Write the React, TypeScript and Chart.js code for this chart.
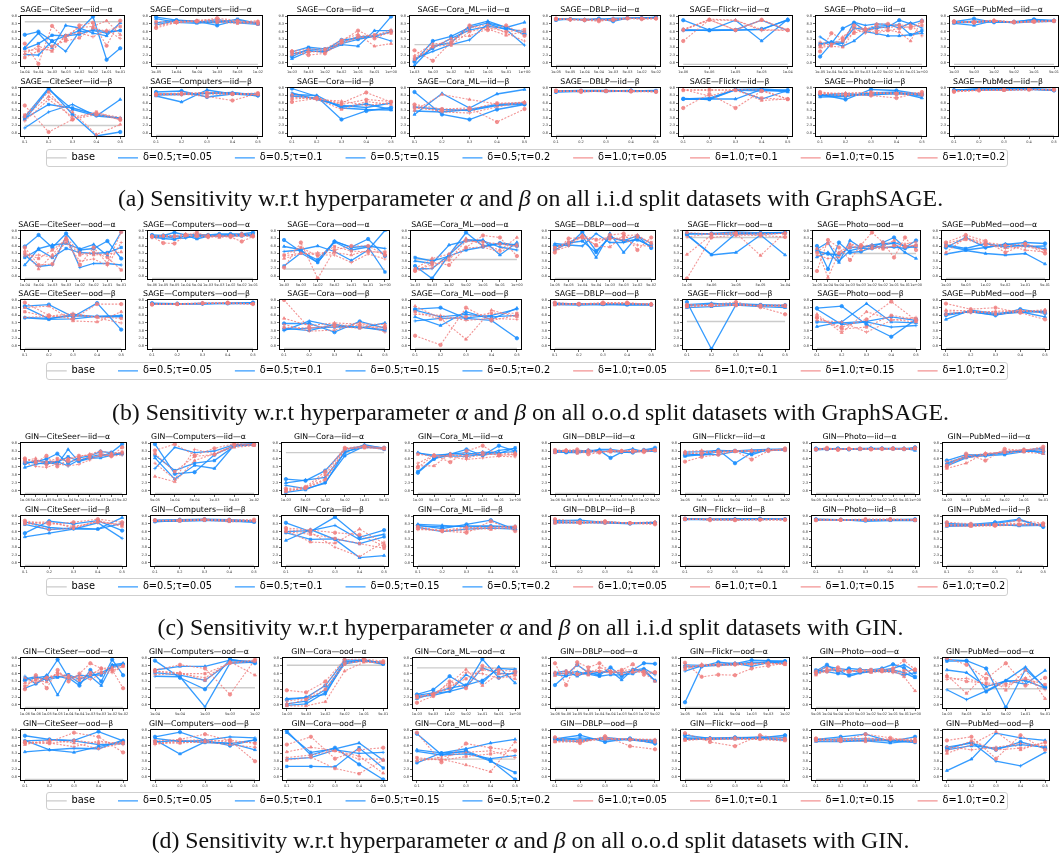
import React, { useEffect, useRef } from 'react';
import { Chart, registerables } from 'chart.js';
Chart.register(...registerables);
Chart.defaults.font.family = 'DejaVu Sans';

const SERIES_LABELS = ['base', 'δ=0.5;τ=0.05', 'δ=0.5;τ=0.1', 'δ=0.5;τ=0.15', 'δ=0.5;τ=0.2', 'δ=1.0;τ=0.05', 'δ=1.0;τ=0.1', 'δ=1.0;τ=0.15', 'δ=1.0;τ=0.2'];
const DATASET_NAMES = ['CiteSeer', 'Computers', 'Cora', 'Cora_ML', 'DBLP', 'Flickr', 'Photo', 'PubMed'];
const BETA_TICKS = ['0.1', '0.2', '0.3', '0.4', '0.5'];

const alpha8a = ['1e-04', '5e-04', '1e-03', '5e-03', '1e-02', '5e-02', '1e-01', '5e-01'];
const alpha6Comp = ['1e-05', '1e-04', '5e-04', '1e-03', '5e-03', '1e-02'];
const alpha7Cora = ['1e-03', '5e-03', '1e-02', '5e-02', '1e-01', '5e-01', '1e+00'];
const alpha8Dblp = ['1e-05', '5e-05', '1e-04', '5e-04', '1e-03', '5e-03', '1e-02', '5e-02'];
const alpha5Flickr = ['1e-06', '5e-06', '1e-05', '5e-05', '1e-04'];
const alpha10Photo = ['1e-05', '1e-04', '5e-04', '1e-03', '5e-03', '1e-02', '5e-02', '1e-01', '5e-01', '1e+00'];
const alpha6Pub = ['1e-03', '5e-03', '1e-02', '5e-02', '1e-01', '5e-01'];
const alpha10Comp = ['5e-06', '1e-05', '5e-05', '1e-04', '5e-04', '1e-03', '5e-03', '1e-02', '5e-02', '1e-01'];
const alpha10Gin = ['1e-06', '5e-06', '1e-05', '5e-05', '1e-04', '5e-04', '1e-03', '5e-03', '1e-02', '5e-02'];
const alpha6GinComp = ['5e-05', '1e-04', '5e-04', '1e-03', '5e-03', '1e-02'];
const alpha7GinFlickr = ['1e-05', '5e-05', '1e-04', '5e-04', '1e-03', '5e-03', '1e-02'];
const alpha10GinPhoto = ['5e-05', '1e-04', '5e-04', '1e-03', '5e-03', '1e-02', '5e-02', '1e-01', '5e-01', '1e+00'];
const alpha5GinComp = ['1e-04', '5e-04', '1e-03', '5e-03', '1e-02'];

const sageIidAlphaTicks = [alpha8a, alpha6Comp, alpha7Cora, alpha7Cora, alpha8Dblp, alpha5Flickr, alpha10Photo, alpha6Pub];
const sageOodAlphaTicks = [alpha8a, alpha10Comp, alpha7Cora, alpha7Cora, alpha8Dblp, alpha5Flickr, alpha10Photo, alpha6Pub];
const ginIidAlphaTicks = [alpha10Gin, alpha6GinComp, alpha6Pub, alpha7Cora, alpha10Gin, alpha7GinFlickr, alpha10GinPhoto, alpha6Pub];
const ginOodAlphaTicks = [alpha10Gin, alpha5GinComp, alpha6Pub, alpha7Cora, alpha10Gin, alpha7GinFlickr, alpha10GinPhoto, alpha6Pub];

// values read relative to each axes box (0 = bottom edge, 10 = top edge)
const sageIidAlphaBase = [8.7, 0.5, 0.5, 4.3, 0.3, 0.5, 0.5, 0.5];
const sageIidBetaBase = [2.3, 0.3, 0.3, 0.2, 0.3, 0.3, 0.3, 0.3];
const sageOodAlphaBase = [0.3, 0.3, 2.2, 4.1, 0.3, 8.5, 5.3, 0.3];
const sageOodBetaBase = [0.3, 0.3, 0.3, 0.3, 0.3, 5.6, 0.3, 0.3];
const ginIidAlphaBase = [0.3, 0.3, 8.0, 0.3, 0.3, 0.3, 0.3, 0.3];
const ginIidBetaBase = [0.3, 0.3, 0.3, 0.3, 0.3, 0.3, 0.3, 0.3];
const ginOodAlphaBase = [0.3, 4.1, 8.4, 7.9, 0.3, 0.3, 0.3, 3.9];
const ginOodBetaBase = [0.3, 0.3, 0.3, 4.2, 0.3, 0.3, 0.3, 0.3];

const sageIidAlpha = [
  [[6.2, 6.8, 5.0, 6.0, 7.0, 9.7, 1.4, 3.6], [3.7, 6.5, 3.7, 8.0, 7.5, 6.5, 6.0, 8.5], [2.4, 2.3, 5.0, 3.0, 6.8, 7.0, 6.5, 7.1], [3.5, 4.5, 6.1, 6.0, 6.3, 7.2, 6.8, 7.0], [4.5, 0.6, 7.9, 5.3, 8.0, 8.5, 4.1, 8.9], [2.5, 4.0, 3.0, 6.0, 7.6, 7.8, 8.9, 6.2], [3.0, 3.5, 3.2, 6.1, 6.6, 5.8, 7.1, 5.5], [1.8, 3.1, 4.0, 5.0, 5.6, 7.5, 6.9, 7.8]],
  [[9.6, 9.0, 8.8, 8.0, 9.0, 8.3], [9.3, 8.6, 8.4, 8.8, 8.5, 8.2], [8.1, 8.9, 8.6, 9.1, 8.6, 8.6], [8.5, 9.0, 8.7, 8.5, 9.2, 8.4], [7.5, 8.6, 8.8, 9.4, 8.9, 8.5], [7.8, 8.8, 8.9, 8.9, 8.7, 8.2], [8.2, 8.4, 9.0, 9.1, 8.6, 8.9], [8.7, 8.7, 8.7, 8.6, 8.4, 8.7]],
  [[2.0, 3.5, 3.2, 5.2, 5.5, 6.0, 9.7], [1.6, 3.0, 3.0, 4.3, 4.0, 7.0, 7.0], [2.5, 3.2, 2.8, 4.8, 5.8, 6.0, 5.0], [2.9, 3.8, 3.5, 4.5, 5.3, 5.9, 6.8], [3.0, 2.3, 2.6, 5.0, 7.0, 5.5, 6.8], [3.1, 3.4, 3.5, 5.2, 6.3, 4.0, 4.5], [2.7, 3.0, 2.8, 4.5, 5.6, 6.0, 7.2], [2.4, 2.8, 3.3, 4.7, 5.9, 6.2, 6.5]],
  [[1.0, 5.0, 5.9, 7.6, 8.5, 7.6, 6.3], [0.3, 4.0, 4.7, 7.9, 8.8, 7.6, 8.6], [1.6, 3.0, 4.3, 5.2, 8.3, 7.2, 4.2], [1.3, 3.6, 5.5, 7.1, 7.8, 7.4, 6.8], [3.2, 1.2, 4.8, 8.0, 7.1, 8.0, 6.0], [1.4, 3.8, 5.5, 6.0, 7.3, 6.1, 6.8], [2.2, 4.5, 4.6, 7.5, 8.2, 6.5, 5.0], [1.8, 4.0, 4.2, 6.8, 7.6, 6.8, 7.2]],
  [[9.1, 9.2, 9.0, 9.3, 8.8, 9.4, 9.4, 9.6], [9.3, 9.2, 9.1, 9.2, 9.2, 9.3, 9.5, 9.5], [9.2, 9.1, 9.2, 9.0, 9.4, 9.4, 9.3, 9.4], [9.0, 9.2, 9.1, 9.2, 9.1, 9.4, 9.4, 9.5], [9.3, 9.1, 9.0, 8.8, 9.2, 9.4, 9.2, 9.3], [9.2, 9.2, 9.1, 9.1, 9.0, 9.3, 9.3, 9.4], [9.4, 9.0, 9.2, 9.2, 9.1, 9.4, 9.3, 9.3], [9.1, 9.2, 9.0, 9.0, 9.0, 9.3, 9.4, 9.4]],
  [[9.0, 7.1, 7.1, 7.3, 9.0], [7.1, 7.1, 9.0, 5.0, 9.2], [7.0, 7.1, 7.2, 9.0, 7.0], [7.2, 7.0, 7.1, 7.2, 9.1], [5.0, 9.1, 7.1, 9.1, 7.1], [7.3, 9.0, 9.0, 7.2, 7.0], [7.0, 9.2, 9.0, 7.0, 7.2], [7.1, 9.1, 7.1, 9.0, 7.1]],
  [[2.0, 4.5, 7.4, 8.5, 7.0, 7.5, 7.7, 9.0, 8.3, 8.9], [4.3, 4.8, 4.0, 5.0, 6.8, 6.4, 6.0, 6.0, 6.2, 6.5], [5.8, 4.4, 4.6, 8.6, 8.0, 8.3, 8.2, 7.5, 8.5, 7.5], [4.5, 4.8, 4.8, 7.5, 7.2, 7.8, 8.0, 8.1, 6.2, 7.0], [3.0, 6.5, 5.4, 8.0, 7.2, 8.2, 8.3, 8.0, 7.5, 8.7], [3.8, 4.0, 3.8, 6.8, 7.5, 7.0, 7.1, 6.7, 5.0, 9.0], [4.8, 4.1, 5.8, 7.5, 6.5, 7.7, 7.5, 8.0, 8.2, 6.0], [4.1, 4.4, 5.0, 6.5, 7.1, 6.6, 7.0, 7.4, 7.8, 8.0]],
  [[8.7, 9.3, 8.6, 8.7, 9.1, 8.9], [8.4, 8.0, 8.9, 8.6, 8.9, 9.0], [8.6, 8.8, 8.8, 8.5, 8.7, 8.8], [8.5, 8.6, 8.7, 8.6, 9.2, 8.8], [8.8, 8.5, 8.9, 8.7, 8.8, 8.9], [8.6, 8.8, 9.0, 8.6, 8.6, 8.8], [8.5, 8.7, 8.9, 8.6, 8.9, 8.7], [8.7, 8.6, 8.8, 8.5, 8.7, 8.9]],
];

const sageIidBeta = [
  [[4.0, 9.8, 4.5, 0.2, 1.0], [3.5, 9.5, 5.5, 4.2, 7.5], [1.8, 5.0, 6.5, 4.2, 3.8], [3.7, 6.5, 5.8, 4.5, 3.7], [6.3, 1.0, 3.5, 4.5, 3.5], [4.0, 8.1, 5.0, 0.5, 2.5], [3.2, 7.5, 4.0, 4.8, 3.9], [4.4, 9.0, 3.5, 5.0, 3.4]],
  [[9.0, 9.2, 8.0, 8.6, 8.3], [8.2, 7.0, 9.4, 8.6, 8.6], [8.6, 8.6, 8.7, 8.9, 8.2], [8.4, 8.5, 8.8, 8.8, 8.5], [8.4, 8.6, 8.1, 7.3, 8.7], [8.7, 8.7, 8.6, 8.5, 8.5], [8.5, 8.4, 8.9, 8.8, 8.4], [8.6, 8.8, 8.9, 8.6, 8.8]],
  [[9.7, 8.1, 3.5, 5.2, 5.9], [8.5, 8.3, 5.8, 5.5, 5.4], [8.8, 7.5, 6.3, 5.9, 6.8], [8.2, 7.8, 6.0, 6.6, 5.5], [7.0, 7.7, 6.8, 8.9, 7.0], [8.5, 7.6, 5.5, 7.1, 6.5], [8.0, 7.5, 7.2, 6.3, 6.9], [7.6, 7.9, 6.5, 7.5, 7.1]],
  [[9.0, 4.5, 3.5, 5.5, 6.5], [4.5, 8.7, 5.8, 8.6, 9.5], [5.2, 5.0, 5.5, 6.5, 6.8], [6.0, 5.5, 5.3, 6.3, 6.6], [6.5, 5.6, 5.8, 3.0, 5.6], [5.3, 8.5, 7.5, 6.6, 7.0], [6.2, 5.0, 4.8, 6.0, 7.0], [5.8, 5.3, 5.5, 6.8, 6.8]],
  [[9.0, 9.2, 9.2, 9.3, 9.1], [9.2, 9.3, 9.3, 9.2, 9.2], [9.1, 9.1, 9.2, 9.1, 9.2], [9.2, 9.2, 9.1, 9.2, 9.3], [9.3, 9.0, 9.2, 9.1, 9.0], [9.1, 9.2, 9.1, 9.3, 9.1], [9.2, 9.1, 9.3, 9.2, 9.2], [9.2, 9.3, 9.2, 9.1, 9.1]],
  [[7.6, 7.6, 9.5, 9.6, 9.3], [7.6, 7.6, 7.6, 9.5, 9.0], [7.6, 7.8, 9.5, 7.6, 9.3], [7.7, 7.5, 9.4, 9.2, 9.4], [5.8, 8.6, 5.8, 9.2, 7.6], [9.5, 9.3, 9.5, 7.3, 7.6], [9.5, 8.2, 9.5, 9.4, 7.6], [9.3, 9.5, 9.3, 7.8, 7.5]],
  [[8.5, 7.5, 9.5, 9.3, 8.5], [8.0, 8.1, 8.8, 9.0, 7.8], [8.4, 8.7, 8.3, 8.9, 8.2], [8.3, 8.3, 8.6, 8.6, 8.6], [9.0, 8.5, 8.3, 7.8, 9.0], [8.7, 8.8, 8.9, 8.5, 8.6], [8.6, 8.2, 8.6, 8.9, 8.8], [8.8, 8.6, 9.0, 8.7, 8.4]],
  [[9.3, 9.7, 9.7, 9.6, 9.3], [9.4, 9.5, 9.6, 9.7, 9.4], [9.3, 9.4, 9.5, 9.5, 9.5], [9.4, 9.5, 9.4, 9.6, 9.4], [9.1, 9.3, 9.4, 9.5, 9.5], [9.2, 9.4, 9.3, 9.4, 9.6], [9.3, 9.3, 9.4, 9.6, 9.3], [9.0, 9.4, 9.5, 9.5, 9.4]],
];

const sageOodAlpha = [
  [[6.7, 9.0, 6.5, 9.3, 6.0, 6.3, 7.8, 4.3], [3.0, 6.3, 7.0, 7.3, 6.2, 7.1, 4.9, 9.6], [5.0, 2.7, 3.0, 8.7, 2.5, 3.3, 3.3, 3.0], [4.5, 6.1, 4.5, 6.3, 5.5, 5.3, 5.5, 6.5], [6.5, 3.0, 3.2, 8.2, 3.0, 6.5, 3.3, 9.6], [5.8, 2.2, 5.0, 8.5, 5.5, 5.0, 5.2, 5.6], [4.8, 5.0, 4.6, 7.5, 3.8, 4.2, 2.9, 7.5], [5.3, 4.3, 6.0, 8.0, 5.0, 5.5, 4.5, 2.0]],
  [[9.0, 8.9, 9.5, 9.0, 9.1, 9.0, 9.2, 9.2, 9.2, 9.5], [8.6, 8.3, 8.1, 8.9, 8.2, 8.8, 9.0, 8.8, 9.1, 9.0], [8.5, 8.9, 8.3, 8.4, 9.0, 8.7, 8.9, 9.1, 9.0, 8.8], [8.7, 8.6, 8.8, 8.7, 8.6, 8.9, 8.7, 8.9, 8.8, 9.2], [8.7, 7.4, 7.3, 9.0, 9.5, 8.6, 8.9, 8.6, 7.7, 8.7], [8.8, 8.9, 8.9, 9.2, 9.1, 9.0, 8.5, 8.9, 9.3, 9.0], [8.5, 8.7, 8.6, 8.8, 8.8, 8.5, 8.7, 8.6, 8.8, 8.7], [8.6, 8.8, 8.7, 8.9, 8.7, 8.8, 8.8, 8.9, 8.9, 8.8]],
  [[8.0, 5.7, 4.0, 7.7, 6.6, 8.2, 4.8], [6.7, 6.1, 6.8, 5.7, 3.9, 6.0, 9.9], [5.7, 6.0, 3.5, 7.8, 6.5, 6.8, 6.3], [2.8, 5.4, 3.5, 7.6, 6.0, 6.6, 1.6], [2.5, 7.5, 0.3, 6.0, 6.8, 6.8, 5.0], [4.3, 5.3, 5.4, 5.5, 5.0, 5.9, 5.2], [4.8, 5.4, 5.0, 5.0, 3.5, 5.2, 4.2], [5.0, 6.5, 4.8, 6.7, 5.8, 5.6, 5.6]],
  [[2.8, 0.3, 5.0, 9.5, 6.8, 7.3, 6.8], [3.8, 3.3, 7.0, 7.8, 8.0, 5.0, 7.5], [2.2, 2.3, 5.0, 8.1, 7.8, 6.6, 6.0], [4.5, 3.8, 4.8, 6.0, 6.6, 7.4, 7.0], [1.8, 3.5, 3.0, 6.5, 8.9, 8.5, 4.8], [2.3, 4.3, 5.2, 8.3, 7.0, 6.0, 8.5], [1.8, 2.4, 4.6, 6.4, 6.6, 5.6, 7.2], [2.0, 3.0, 4.0, 7.8, 7.6, 7.2, 6.8]],
  [[6.9, 7.0, 9.6, 5.8, 8.5, 7.9, 8.8, 6.4], [6.5, 7.5, 8.8, 4.5, 9.3, 5.5, 8.8, 7.3], [7.3, 7.0, 6.8, 9.3, 7.5, 7.5, 8.2, 6.6], [6.0, 7.4, 7.8, 5.5, 8.6, 7.8, 8.0, 6.8], [5.5, 8.3, 8.5, 7.0, 9.0, 9.3, 6.0, 8.5], [6.3, 7.3, 9.0, 6.8, 6.6, 8.9, 9.0, 7.3], [5.8, 6.8, 8.8, 8.2, 8.5, 8.0, 7.0, 6.7], [6.5, 7.6, 8.5, 8.0, 8.2, 8.5, 8.6, 7.5]],
  [[9.2, 9.3, 9.6, 9.4, 9.5], [9.0, 5.0, 5.5, 9.0, 5.0], [9.1, 5.1, 9.3, 9.2, 9.4], [9.3, 9.2, 9.2, 9.4, 9.4], [0.3, 8.5, 9.0, 8.9, 8.6], [5.1, 9.0, 9.4, 4.9, 9.5], [8.6, 9.3, 9.2, 9.0, 9.4], [9.5, 9.2, 9.5, 9.3, 9.3]],
  [[6.8, 2.2, 7.5, 5.5, 5.7, 6.5, 7.5, 8.5, 6.5, 7.9], [4.6, 5.5, 3.5, 7.9, 6.5, 7.0, 7.3, 7.3, 5.5, 4.3], [6.2, 7.5, 3.8, 5.9, 6.4, 6.2, 7.0, 7.5, 6.8, 6.5], [5.8, 5.2, 5.0, 6.5, 6.6, 6.8, 6.5, 6.6, 6.3, 6.9], [1.8, 8.0, 6.5, 4.0, 7.0, 9.5, 7.5, 4.5, 8.5, 6.0], [6.3, 0.5, 5.5, 7.1, 6.0, 6.3, 6.8, 7.9, 6.9, 6.8], [5.0, 4.3, 4.5, 7.2, 6.8, 7.0, 6.4, 6.8, 7.2, 7.6], [5.5, 7.3, 5.3, 6.5, 6.7, 6.5, 6.2, 6.9, 6.6, 7.0]],
  [[6.5, 8.5, 6.5, 7.1, 7.5, 7.3], [5.2, 5.9, 5.3, 5.0, 5.3, 3.2], [6.8, 6.0, 6.5, 7.2, 6.7, 6.8], [7.0, 6.3, 7.3, 6.6, 7.0, 6.2], [7.5, 9.0, 7.8, 5.5, 7.2, 5.3], [5.5, 8.5, 7.5, 7.0, 6.0, 5.6], [7.3, 8.3, 7.2, 6.3, 6.7, 6.0], [6.8, 8.1, 7.0, 6.8, 7.3, 5.9]],
];

const sageOodBeta = [
  [[8.6, 8.9, 6.5, 9.2, 4.0], [8.4, 6.1, 7.0, 6.5, 6.5], [6.4, 6.2, 6.7, 6.6, 6.8], [6.3, 6.0, 6.1, 6.6, 6.6], [9.3, 6.8, 6.1, 9.0, 9.0], [8.3, 8.6, 5.7, 5.5, 7.5], [6.4, 6.6, 7.2, 6.3, 5.3], [7.5, 6.5, 6.8, 6.5, 6.2]],
  [[9.2, 9.1, 9.1, 9.2, 9.3], [9.0, 9.0, 9.2, 9.1, 9.1], [9.1, 9.1, 9.0, 9.2, 9.2], [9.0, 9.0, 9.1, 9.1, 9.2], [8.9, 9.0, 9.2, 9.3, 9.0], [9.1, 8.9, 9.1, 9.2, 9.1], [9.0, 9.1, 9.2, 9.1, 9.0], [8.9, 9.0, 9.1, 9.2, 9.1]],
  [[5.2, 5.2, 3.5, 5.6, 4.3], [4.3, 3.8, 5.0, 4.3, 5.3], [3.8, 5.7, 4.7, 4.5, 4.0], [4.0, 4.3, 4.5, 4.5, 3.8], [9.8, 4.3, 4.9, 4.8, 4.3], [6.2, 4.8, 5.3, 5.1, 5.0], [5.0, 3.7, 3.9, 5.4, 3.5], [4.4, 4.3, 4.6, 4.3, 4.6]],
  [[8.0, 8.3, 6.2, 5.8, 2.3], [6.5, 4.8, 7.5, 6.0, 8.2], [5.7, 6.2, 6.3, 6.8, 8.0], [7.8, 6.5, 7.0, 6.5, 6.8], [2.8, 1.0, 8.3, 5.8, 6.8], [8.6, 6.2, 2.1, 7.8, 6.5], [7.0, 6.8, 5.8, 6.2, 6.0], [7.5, 6.0, 6.5, 7.2, 7.2]],
  [[9.2, 9.0, 9.1, 9.0, 8.9], [8.9, 8.8, 8.9, 8.8, 8.8], [9.0, 9.1, 8.9, 9.1, 9.0], [9.1, 9.0, 9.0, 8.9, 8.9], [9.3, 9.0, 9.3, 9.3, 8.9], [8.8, 9.0, 9.0, 9.1, 9.1], [9.0, 8.9, 9.2, 9.0, 8.8], [9.1, 9.1, 9.1, 9.2, 9.0]],
  [[9.4, 0.2, 8.9, 8.8, 8.8], [8.3, 8.5, 8.8, 8.5, 8.3], [8.9, 9.2, 8.8, 8.7, 8.7], [8.7, 9.0, 9.1, 8.9, 8.6], [8.8, 8.9, 9.4, 8.4, 7.0], [8.4, 8.7, 9.0, 8.6, 8.5], [9.0, 8.6, 8.9, 8.7, 8.9], [8.6, 8.8, 8.7, 8.8, 8.7]],
  [[8.2, 8.6, 5.0, 2.6, 6.0], [4.6, 5.5, 9.1, 5.5, 5.3], [8.0, 5.0, 5.5, 4.5, 4.8], [5.5, 5.3, 5.6, 6.5, 5.8], [6.3, 4.5, 6.0, 9.5, 5.8], [7.0, 3.4, 7.5, 6.0, 5.5], [5.8, 5.5, 3.5, 5.8, 6.4], [6.5, 4.1, 4.5, 6.8, 6.0]],
  [[7.0, 7.5, 6.8, 8.0, 7.2], [6.0, 7.8, 7.2, 7.5, 6.5], [7.1, 7.5, 6.9, 7.6, 7.5], [6.8, 7.6, 7.0, 7.4, 7.6], [9.1, 8.0, 8.3, 7.3, 6.0], [7.8, 7.7, 7.0, 7.5, 7.9], [7.5, 7.3, 7.6, 7.8, 7.2], [7.0, 7.6, 7.4, 7.7, 7.6]],
];

const ginIidAlpha = [
  [[6.0, 6.3, 6.8, 7.8, 6.0, 7.0, 7.4, 8.2, 8.0, 9.6], [5.2, 5.8, 6.2, 5.8, 8.6, 6.3, 6.9, 7.0, 7.5, 8.0], [5.8, 6.5, 6.3, 6.3, 5.5, 6.6, 7.0, 7.3, 8.0, 7.6], [6.3, 6.0, 5.9, 6.2, 7.2, 6.4, 7.2, 7.6, 7.5, 7.8], [6.9, 6.1, 7.4, 5.4, 6.7, 7.4, 7.5, 7.9, 7.3, 9.0], [6.5, 6.9, 5.6, 6.6, 6.8, 7.2, 7.7, 8.3, 7.9, 8.0], [6.1, 5.4, 5.2, 5.9, 5.5, 5.8, 6.6, 7.6, 7.3, 7.6], [6.7, 6.4, 6.2, 6.9, 6.3, 6.7, 7.1, 7.4, 7.6, 8.1]],
  [[9.6, 4.0, 4.3, 7.6, 9.3, 9.6], [7.0, 3.0, 5.6, 5.0, 9.4, 9.4], [5.0, 9.0, 8.0, 8.3, 9.5, 9.7], [7.5, 4.6, 6.0, 6.5, 9.2, 9.5], [8.4, 9.6, 7.5, 8.8, 9.7, 9.5], [3.5, 2.5, 6.5, 7.8, 9.0, 9.3], [6.0, 3.0, 8.6, 7.8, 9.3, 9.4], [7.8, 4.4, 7.3, 7.6, 9.5, 9.6]],
  [[3.0, 2.7, 4.6, 8.6, 9.3, 8.9], [2.3, 2.8, 3.3, 8.0, 9.5, 8.8], [1.8, 1.2, 2.2, 8.2, 9.0, 8.9], [0.5, 1.0, 2.4, 7.4, 9.2, 8.6], [1.2, 1.5, 4.4, 8.9, 9.2, 8.9], [0.6, 1.4, 3.0, 8.7, 9.0, 8.7], [1.0, 1.2, 2.8, 8.5, 9.3, 8.8], [0.8, 1.3, 3.8, 8.8, 8.9, 8.7]],
  [[4.2, 6.8, 7.7, 8.6, 7.5, 9.3, 8.3], [8.0, 7.2, 7.8, 7.6, 8.1, 8.0, 8.2], [7.9, 7.5, 7.7, 8.0, 7.4, 8.4, 8.8], [4.4, 7.0, 7.4, 7.3, 7.7, 7.8, 8.9], [5.2, 7.5, 6.2, 8.3, 9.3, 7.5, 7.7], [5.5, 5.5, 7.8, 7.0, 7.6, 7.7, 8.0], [6.0, 7.5, 7.2, 6.7, 7.0, 7.3, 7.2], [7.7, 7.3, 7.5, 7.4, 8.0, 7.5, 7.6]],
  [[8.3, 8.1, 8.2, 8.4, 8.4, 7.0, 8.1, 8.0, 8.5, 8.9], [8.0, 8.2, 8.1, 8.2, 8.6, 8.6, 8.3, 8.7, 8.2, 8.3], [8.4, 8.3, 8.4, 8.3, 8.2, 8.3, 8.1, 8.2, 8.4, 8.6], [8.2, 8.0, 8.0, 8.1, 8.3, 8.2, 8.2, 8.1, 8.3, 8.4], [8.5, 8.4, 8.6, 7.7, 8.0, 8.4, 8.3, 8.2, 8.1, 8.5], [8.1, 8.5, 8.2, 8.5, 8.1, 8.1, 8.2, 8.3, 8.5, 8.4], [8.3, 8.2, 8.3, 8.3, 8.2, 8.2, 8.4, 8.1, 8.2, 8.5], [8.0, 8.3, 7.9, 8.1, 8.1, 8.3, 8.3, 8.4, 8.3, 8.4]],
  [[7.5, 7.7, 8.5, 6.0, 8.0, 8.4, 8.5], [7.3, 7.6, 7.6, 8.2, 8.3, 8.5, 8.6], [8.1, 8.2, 8.4, 8.3, 8.5, 8.6, 8.5], [7.8, 7.5, 8.2, 8.4, 7.6, 8.6, 8.7], [6.3, 7.2, 7.6, 8.3, 6.7, 8.3, 8.8], [8.2, 8.4, 8.0, 8.3, 8.4, 8.5, 8.6], [7.7, 8.0, 8.1, 8.4, 8.2, 8.4, 8.5], [8.0, 7.8, 8.3, 8.2, 8.3, 8.5, 8.4]],
  [[8.8, 8.7, 8.8, 8.6, 8.7, 8.8, 8.8, 8.8, 8.7, 9.0], [8.6, 8.7, 8.6, 8.7, 8.7, 8.7, 8.8, 8.7, 8.8, 8.4], [8.7, 8.8, 8.7, 8.7, 8.8, 8.8, 8.7, 8.8, 8.8, 8.7], [8.5, 8.6, 8.7, 8.6, 8.6, 8.7, 8.7, 8.7, 8.6, 8.8], [8.6, 8.9, 8.5, 8.7, 8.7, 8.6, 8.7, 8.8, 8.7, 8.9], [8.7, 8.6, 8.7, 8.8, 8.6, 8.7, 8.8, 8.6, 8.8, 8.7], [8.5, 8.7, 8.6, 8.6, 8.7, 8.8, 8.6, 8.7, 8.7, 8.6], [8.6, 8.8, 8.6, 8.7, 8.8, 8.6, 8.7, 8.8, 8.6, 8.8]],
  [[6.5, 7.6, 7.5, 8.2, 8.3, 8.2], [5.5, 7.0, 7.6, 7.8, 8.6, 7.8], [6.0, 7.3, 7.7, 8.0, 8.4, 8.9], [5.8, 7.2, 7.4, 7.6, 8.2, 8.6], [5.3, 7.8, 6.5, 8.7, 8.4, 9.1], [5.0, 6.0, 7.9, 8.0, 8.1, 7.8], [6.3, 7.0, 7.5, 8.3, 8.5, 8.8], [5.6, 7.4, 7.8, 8.1, 8.6, 8.4]],
];

const ginIidBeta = [
  [[6.5, 8.8, 8.3, 8.9, 7.0], [5.8, 6.5, 7.3, 7.3, 9.5], [8.7, 7.6, 7.3, 8.5, 5.5], [8.2, 7.2, 7.5, 7.3, 8.4], [8.9, 8.2, 8.6, 9.2, 8.6], [8.7, 7.2, 7.4, 8.8, 7.8], [8.5, 8.7, 7.5, 8.9, 8.0], [8.3, 8.5, 7.8, 8.6, 8.2]],
  [[9.0, 9.1, 9.2, 9.1, 8.8], [8.8, 8.8, 8.9, 8.9, 8.6], [8.9, 9.0, 9.1, 9.0, 8.9], [8.7, 8.9, 9.0, 8.8, 8.7], [9.0, 9.0, 9.2, 9.0, 9.1], [8.9, 8.8, 9.0, 8.7, 8.8], [8.8, 9.1, 9.1, 8.9, 9.0], [9.0, 8.9, 9.0, 9.1, 8.9]],
  [[8.5, 6.8, 9.6, 5.7, 7.1], [5.1, 7.2, 5.3, 1.8, 2.2], [6.8, 7.0, 8.0, 5.3, 6.3], [6.6, 5.3, 5.4, 4.5, 5.8], [7.5, 7.1, 6.6, 6.2, 4.0], [7.0, 4.8, 4.6, 7.3, 4.5], [7.2, 6.7, 3.8, 2.0, 4.8], [6.8, 6.3, 5.5, 4.5, 3.6]],
  [[8.0, 7.4, 8.2, 9.0, 7.2], [8.2, 8.0, 7.7, 7.8, 7.8], [7.6, 6.8, 7.3, 7.5, 7.3], [7.9, 7.7, 7.9, 7.9, 7.6], [7.5, 6.9, 6.6, 8.8, 6.9], [7.3, 7.0, 7.7, 7.2, 7.8], [7.2, 7.1, 6.9, 7.6, 7.4], [7.8, 6.9, 7.4, 7.7, 7.8]],
  [[8.9, 9.0, 8.6, 8.4, 8.5], [8.6, 8.5, 8.7, 8.4, 8.4], [8.7, 8.6, 8.5, 8.5, 8.6], [8.5, 8.6, 8.5, 8.3, 8.5], [9.2, 8.7, 8.8, 8.4, 8.2], [8.4, 8.5, 8.4, 8.5, 8.7], [8.8, 8.6, 8.6, 8.4, 8.3], [8.6, 8.4, 8.7, 8.5, 8.4]],
  [[9.3, 9.2, 9.2, 9.3, 9.2], [9.2, 9.1, 9.1, 9.2, 9.1], [9.2, 9.2, 9.3, 9.2, 9.2], [9.1, 9.1, 9.1, 9.1, 9.2], [9.3, 9.0, 9.0, 9.1, 9.1], [9.1, 9.2, 9.2, 9.1, 9.0], [9.2, 9.1, 9.1, 9.2, 9.2], [9.2, 9.2, 9.0, 9.1, 9.1]],
  [[9.2, 9.1, 9.0, 9.1, 9.2], [9.0, 9.1, 8.8, 8.9, 8.9], [9.1, 9.0, 9.1, 9.0, 9.1], [9.1, 9.1, 9.0, 9.1, 9.0], [9.0, 9.1, 9.2, 9.2, 9.0], [9.1, 9.0, 9.0, 9.0, 9.1], [9.2, 9.1, 9.1, 9.1, 9.0], [9.0, 9.0, 9.0, 9.2, 9.1]],
  [[8.4, 8.2, 8.6, 9.2, 7.7], [7.8, 7.9, 8.2, 7.9, 8.0], [8.0, 8.0, 8.4, 9.0, 7.8], [8.1, 8.1, 8.0, 8.1, 8.2], [8.6, 8.3, 8.0, 9.0, 8.4], [7.9, 7.8, 8.1, 8.2, 8.0], [8.2, 8.1, 8.3, 8.4, 8.3], [8.0, 7.9, 7.9, 8.1, 8.1]],
];

const ginOodAlpha = [
  [[5.5, 6.0, 6.3, 9.5, 6.0, 4.5, 7.5, 5.3, 9.5, 6.5], [4.0, 4.8, 6.5, 2.7, 6.5, 5.0, 6.3, 4.5, 8.5, 8.8], [6.3, 4.8, 6.0, 6.3, 5.8, 6.5, 6.3, 7.0, 8.0, 8.5], [5.8, 6.2, 5.6, 6.1, 6.6, 5.7, 6.6, 6.5, 8.3, 8.6], [3.8, 6.5, 4.0, 7.5, 5.3, 6.8, 8.8, 7.8, 7.5, 4.0], [5.0, 5.5, 5.2, 7.0, 6.0, 5.5, 6.5, 7.8, 8.0, 8.4], [6.0, 5.0, 6.2, 6.5, 6.0, 6.3, 5.7, 6.8, 7.0, 8.3], [4.4, 5.7, 5.9, 6.8, 6.4, 5.9, 7.0, 7.1, 7.4, 8.2]],
  [[9.3, 6.0, 3.8, 9.6, 8.8], [7.5, 8.2, 8.2, 9.4, 9.1], [6.3, 6.2, 0.4, 8.8, 9.0], [7.0, 6.5, 5.5, 9.0, 9.2], [7.5, 8.5, 7.8, 2.8, 9.5], [7.2, 7.0, 5.5, 9.1, 6.5], [6.6, 6.8, 6.0, 9.0, 9.4], [7.3, 6.8, 6.8, 8.8, 9.2]],
  [[1.8, 2.2, 4.5, 9.4, 9.4, 8.8], [1.0, 1.5, 3.7, 8.9, 9.5, 8.7], [2.0, 2.2, 2.8, 9.1, 9.2, 9.0], [0.7, 1.0, 3.2, 8.7, 9.3, 8.6], [3.6, 3.2, 5.3, 9.5, 9.6, 9.2], [0.6, 0.6, 1.4, 7.3, 9.0, 8.9], [1.5, 2.0, 4.6, 9.0, 9.1, 8.8], [0.9, 1.8, 3.8, 8.6, 9.4, 9.0]],
  [[2.8, 3.7, 6.3, 4.4, 9.6, 6.0, 7.1], [2.0, 3.0, 3.4, 6.6, 5.0, 8.1, 5.0], [2.4, 2.6, 3.4, 4.2, 7.9, 6.8, 6.8], [2.6, 3.1, 4.0, 4.6, 5.5, 7.8, 7.6], [1.2, 2.5, 5.3, 4.0, 8.3, 7.5, 7.2], [2.3, 2.9, 4.9, 7.6, 4.5, 6.8, 5.8], [2.0, 3.1, 3.8, 7.0, 6.8, 5.9, 6.4], [2.5, 2.7, 4.4, 5.8, 7.6, 7.0, 6.6]],
  [[4.6, 6.5, 8.5, 7.0, 6.5, 8.0, 6.3, 7.5, 8.8, 8.7], [7.0, 7.3, 6.3, 7.3, 7.0, 7.3, 5.6, 7.6, 7.3, 5.5], [6.8, 6.9, 7.2, 6.7, 7.0, 7.2, 6.9, 7.4, 7.8, 6.6], [6.6, 6.4, 6.8, 6.7, 6.3, 6.6, 6.5, 6.8, 7.7, 5.4], [8.8, 4.6, 9.0, 8.0, 8.8, 7.2, 7.5, 8.6, 6.6, 7.1], [6.4, 7.0, 6.9, 6.5, 8.0, 7.3, 6.7, 7.2, 7.0, 5.3], [7.1, 6.7, 8.5, 6.9, 7.4, 7.0, 7.4, 7.6, 7.1, 6.8], [6.9, 7.3, 6.6, 7.4, 7.2, 6.9, 7.2, 7.1, 7.3, 7.0]],
  [[1.3, 8.2, 9.0, 8.7, 9.4, 9.3, 9.2], [8.5, 8.4, 8.6, 8.8, 8.2, 8.9, 9.0], [7.3, 8.3, 8.5, 8.6, 9.0, 9.0, 8.7], [8.1, 8.2, 8.4, 8.6, 8.7, 9.1, 9.2], [8.9, 6.2, 6.6, 6.5, 7.8, 8.3, 8.8], [7.6, 8.6, 8.5, 8.8, 8.7, 8.9, 8.5], [8.3, 8.2, 8.7, 8.4, 8.8, 8.6, 8.9], [7.9, 8.4, 8.3, 8.5, 8.6, 8.8, 8.6]],
  [[7.3, 8.5, 7.0, 7.8, 7.6, 7.5, 7.8, 8.6, 7.9, 6.2], [6.8, 7.5, 7.5, 6.3, 6.9, 7.2, 7.4, 7.5, 7.0, 6.0], [7.0, 8.2, 7.8, 7.5, 7.1, 7.3, 7.5, 7.8, 8.5, 7.2], [7.5, 7.2, 6.8, 6.6, 7.0, 7.2, 7.3, 7.2, 6.5, 7.0], [7.0, 7.2, 8.0, 7.2, 7.5, 7.3, 7.4, 7.8, 9.3, 7.6], [6.5, 7.4, 7.3, 7.4, 7.3, 7.0, 7.2, 7.5, 6.2, 3.5], [7.4, 8.0, 7.5, 7.0, 7.6, 7.5, 7.1, 7.0, 6.8, 7.8], [6.9, 7.6, 7.6, 7.3, 7.2, 7.6, 7.6, 7.2, 7.4, 7.4]],
  [[9.5, 9.3, 7.8, 0.3, 7.6, 4.2], [7.5, 7.0, 4.3, 5.4, 4.8, 7.4], [3.7, 1.8, 3.5, 5.5, 8.1, 4.0], [9.2, 9.2, 3.3, 5.4, 5.5, 4.0], [9.8, 8.5, 5.8, 8.8, 4.5, 6.0], [6.5, 3.0, 6.8, 3.6, 7.5, 2.0], [5.7, 5.9, 4.7, 4.4, 6.0, 3.7], [6.2, 5.3, 5.0, 4.8, 5.8, 4.7]],
];

const ginOodBeta = [
  [[8.7, 8.0, 7.8, 9.5, 7.7], [5.6, 6.0, 5.5, 6.6, 7.6], [7.8, 6.0, 6.3, 6.2, 7.9], [7.7, 7.9, 7.7, 7.0, 7.2], [7.4, 7.5, 9.3, 8.5, 5.5], [7.0, 7.9, 7.3, 6.2, 7.3], [7.2, 7.3, 6.6, 7.7, 7.0], [7.6, 7.2, 7.8, 7.3, 7.4]],
  [[8.5, 9.4, 7.8, 6.8, 7.9], [7.9, 5.2, 7.5, 7.3, 6.0], [8.2, 7.6, 7.8, 8.5, 8.3], [7.5, 7.8, 7.4, 7.2, 7.9], [7.7, 8.0, 9.0, 7.8, 3.8], [7.2, 7.4, 7.5, 7.0, 6.5], [7.0, 7.8, 7.9, 7.5, 7.4], [7.4, 7.3, 7.6, 7.9, 7.2]],
  [[9.6, 5.0, 6.4, 3.2, 0.3], [9.3, 5.5, 6.2, 7.3, 4.0], [4.2, 4.5, 6.0, 5.3, 5.5], [2.8, 2.8, 2.7, 6.4, 2.5], [7.0, 8.5, 4.3, 6.0, 6.4], [5.6, 6.5, 5.8, 4.8, 1.5], [4.5, 5.0, 5.8, 4.2, 4.2], [4.0, 4.6, 2.4, 1.4, 4.0]],
  [[9.1, 5.1, 5.8, 4.0, 0.3], [6.0, 5.4, 6.2, 7.3, 8.0], [5.7, 5.0, 5.2, 4.3, 4.9], [3.5, 5.4, 5.6, 3.8, 1.6], [9.3, 3.6, 7.2, 6.4, 5.8], [4.0, 4.2, 3.1, 1.8, 7.5], [3.8, 4.6, 5.5, 5.8, 4.5], [4.5, 4.0, 4.7, 5.2, 5.9]],
  [[8.1, 8.8, 7.5, 8.2, 7.2], [7.8, 7.6, 8.4, 7.9, 7.4], [7.9, 8.3, 7.9, 7.9, 7.6], [8.2, 7.9, 8.1, 8.0, 7.8], [8.4, 7.3, 8.6, 6.7, 6.1], [7.5, 7.5, 8.1, 8.1, 7.9], [7.7, 7.7, 8.3, 8.0, 8.0], [7.6, 7.8, 8.1, 7.9, 7.5]],
  [[8.8, 8.2, 8.4, 8.3, 8.8], [8.2, 8.3, 8.2, 8.3, 8.0], [8.0, 8.0, 8.1, 8.2, 7.8], [8.3, 8.1, 8.3, 8.5, 8.4], [9.2, 7.5, 6.7, 8.8, 8.0], [7.8, 8.1, 8.0, 8.0, 7.7], [8.1, 7.9, 8.2, 8.0, 8.3], [7.9, 8.2, 8.3, 8.1, 8.0]],
  [[8.0, 8.5, 9.0, 7.6, 8.5], [7.6, 7.6, 7.7, 7.3, 7.8], [7.9, 8.1, 8.1, 7.9, 7.6], [8.0, 7.8, 7.8, 7.7, 7.4], [8.2, 7.7, 9.0, 8.3, 7.7], [7.7, 8.2, 8.0, 8.1, 7.5], [7.8, 7.6, 8.3, 7.9, 7.9], [8.1, 7.9, 7.6, 8.0, 8.1]],
  [[6.5, 7.3, 6.0, 7.5, 6.3], [2.0, 4.2, 9.2, 8.3, 7.8], [6.2, 7.5, 3.8, 2.9, 5.5], [6.0, 6.8, 6.3, 7.0, 6.5], [7.8, 8.5, 4.3, 8.8, 6.0], [5.3, 7.0, 9.5, 6.0, 7.5], [6.6, 6.0, 6.5, 7.2, 6.8], [5.8, 7.7, 6.0, 6.3, 7.4]],
];

const Y_TICKS = [0.8, 2.3, 3.8, 5.3, 6.8, 8.3, 9.8];

const BLUE = 'rgba(30,144,255,0.9)';
const RED = 'rgba(240,128,128,0.85)';
const BASE_COLOR = 'rgba(185,185,185,0.75)';
const MARKERS = ['circle', 'triangle', 'cross', 'rect'];

const YW = 12;
const XH = 8;
const TH = 12;

const framePlugin = {
  id: 'frame',
  afterDraw(chart: any) {
    const { ctx, chartArea: a } = chart;
    ctx.save();
    ctx.strokeStyle = '#000';
    ctx.lineWidth = 1;
    ctx.strokeRect(Math.round(a.left) + 0.5, Math.round(a.top) + 0.5, Math.round(a.right - a.left) - 1, Math.round(a.bottom - a.top) - 1);
    ctx.restore();
  },
};

type SubProps = { title: string; labels: string[]; series: number[][]; base: number; left: number; right: number; top: number; bottom: number };

function SubPlot(p: SubProps) {
  const ref = useRef<HTMLCanvasElement>(null);
  const w = p.right - p.left + 2 * YW;
  const h = TH + (p.bottom - p.top) + XH;
  useEffect(() => {
    const n = p.labels.length;
    const toPts = (vals: number[]) => vals.map((v, i) => ({ x: i, y: v }));
    const datasets: any[] = [
      { label: SERIES_LABELS[0], data: toPts(p.labels.map(() => p.base)), borderColor: BASE_COLOR, borderWidth: 1.4, pointRadius: 0, order: 9 },
    ];
    p.series.forEach((vals, k) => {
      const blue = k < 4;
      const c = blue ? BLUE : RED;
      datasets.push({
        label: SERIES_LABELS[k + 1], data: toPts(vals), borderColor: c, backgroundColor: c,
        borderWidth: blue ? 1.3 : 1.1, borderDash: blue ? [] : [2, 1.5], pointStyle: MARKERS[k % 4],
        pointRadius: 1.7, pointBorderWidth: 0.8, order: 8 - k,
      });
    });
    const chart = new Chart(ref.current as HTMLCanvasElement, {
      type: 'line',
      data: { datasets },
      options: {
        animation: false,
        responsive: false,
        layout: { padding: { left: 0, right: YW, top: 0, bottom: 0 } },
        plugins: {
          legend: { display: false },
          tooltip: { enabled: false },
          title: { display: true, text: p.title, color: '#000', font: { family: 'DejaVu Sans', size: 7.8, weight: 'normal' }, padding: { top: 2.64, bottom: 0 } },
        },
        scales: {
          x: {
            type: 'linear', min: -(n - 1) * 0.05, max: (n - 1) * 1.05,
            afterBuildTicks: (s: any) => { s.ticks = p.labels.map((_, i) => ({ value: i })); },
            afterFit: (s: any) => { s.height = XH; },
            ticks: { autoSkip: false, maxRotation: 0, padding: 1, color: '#333', font: { size: 3.5 }, callback: (v: any) => p.labels[Math.round(v)] },
            grid: { display: true, drawOnChartArea: false, drawTicks: true, tickLength: 2, color: '#000', lineWidth: 0.6 },
            border: { display: false },
          },
          y: {
            type: 'linear', min: 0, max: 10,
            afterBuildTicks: (s: any) => { s.ticks = Y_TICKS.map((v) => ({ value: v })); },
            afterFit: (s: any) => { s.width = YW; },
            ticks: { padding: 1, color: '#333', font: { size: 3.5 }, callback: (v: any) => Number(v).toFixed(1) },
            grid: { display: true, drawOnChartArea: false, drawTicks: true, tickLength: 2, color: '#000', lineWidth: 0.6 },
            border: { display: false },
          },
        },
      } as any,
      plugins: [framePlugin],
    });
    return () => chart.destroy();
  }, []);
  return <canvas ref={ref} width={w} height={h} style={{ position: 'absolute', left: p.left - YW, top: p.top - TH, width: w, height: h }} />;
}

function LegendStrip({ top }: { top: number }) {
  const ref = useRef<HTMLCanvasElement>(null);
  useEffect(() => {
    const datasets = SERIES_LABELS.map((label, j) => {
      const c = j === 0 ? BASE_COLOR : j < 5 ? BLUE : RED;
      return { label, data: [], borderColor: c, backgroundColor: c, borderWidth: 1.2, borderDash: j >= 5 ? [2, 1.5] : [] };
    });
    const chart = new Chart(ref.current as HTMLCanvasElement, {
      type: 'line',
      data: { datasets },
      options: {
        animation: false,
        responsive: false,
        scales: { x: { display: false }, y: { display: false } },
        plugins: {
          tooltip: { enabled: false },
          legend: {
            display: true, position: 'top', maxHeight: 60,
            labels: { usePointStyle: true, pointStyle: 'line', pointStyleWidth: 20, padding: 23, color: '#000', font: { family: 'DejaVu Sans', size: 9.8 } },
          },
        },
      } as any,
    });
    return () => chart.destroy();
  }, []);
  return (
    <>
      <div style={{ position: 'absolute', left: 46, top, width: 962, height: 18, border: '1px solid #cfcfcf', borderRadius: 3, boxSizing: 'border-box' }} />
      <canvas ref={ref} width={1052} height={120} style={{ position: 'absolute', left: 0, top: top + 9 - 27.9, width: 1052, height: 120, pointerEvents: 'none' }} />
    </>
  );
}

type PanelCfg = {
  model: string; split: string;
  alphaTicks: string[][]; alpha: number[][][]; alphaBase: number[];
  beta: number[][][]; betaBase: number[];
  lefts: number[]; rights: number[]; rows: number[][]; legendTop: number;
  caption: React.ReactNode; captionY: number;
};

const PANELS: PanelCfg[] = [
  {
    model: 'SAGE', split: 'iid', alphaTicks: sageIidAlphaTicks, alpha: sageIidAlpha, alphaBase: sageIidAlphaBase, beta: sageIidBeta, betaBase: sageIidBetaBase,
    lefts: [20, 151, 287, 409, 551, 678, 815, 949], rights: [125, 263, 396, 530, 661, 793, 927, 1059], rows: [[15, 67], [87, 137]], legendTop: 149,
    caption: <>(a) Sensitivity w.r.t hyperparameter <i>α</i> and <i>β</i> on all i.i.d split datasets with GraphSAGE.</>, captionY: 198,
  },
  {
    model: 'SAGE', split: 'ood', alphaTicks: sageOodAlphaTicks, alpha: sageOodAlpha, alphaBase: sageOodAlphaBase, beta: sageOodBeta, betaBase: sageOodBetaBase,
    lefts: [20, 147, 279, 410, 550, 682, 812, 941], rights: [126, 258, 390, 522, 656, 790, 921, 1050], rows: [[230, 280], [299, 350]], legendTop: 362,
    caption: <>(b) Sensitivity w.r.t hyperparameter <i>α</i> and <i>β</i> on all o.o.d split datasets with GraphSAGE.</>, captionY: 412,
  },
  {
    model: 'GIN', split: 'iid', alphaTicks: ginIidAlphaTicks, alpha: ginIidAlpha, alphaBase: ginIidAlphaBase, beta: ginIidBeta, betaBase: ginIidBetaBase,
    lefts: [20, 150, 281, 413, 550, 680, 811, 942], rights: [127, 259, 389, 520, 660, 790, 920, 1048], rows: [[442, 495], [515, 567]], legendTop: 578,
    caption: <>(c) Sensitivity w.r.t hyperparameter <i>α</i> and <i>β</i> on all i.i.d split datasets with GIN.</>, captionY: 627,
  },
  {
    model: 'GIN', split: 'ood', alphaTicks: ginOodAlphaTicks, alpha: ginOodAlpha, alphaBase: ginOodAlphaBase, beta: ginOodBeta, betaBase: ginOodBetaBase,
    lefts: [20, 150, 282, 412, 550, 680, 811, 942], rights: [128, 260, 388, 520, 660, 790, 920, 1050], rows: [[657, 709], [729, 781]], legendTop: 792,
    caption: <>(d) Sensitivity w.r.t hyperparameter <i>α</i> and <i>β</i> on all o.o.d split datasets with GIN.</>, captionY: 840,
  },
];

function Panel({ cfg }: { cfg: PanelCfg }) {
  return (
    <>
      {DATASET_NAMES.map((name, i) => (
        <SubPlot key={'a' + i} title={`${cfg.model}—${name}—${cfg.split}—α`} labels={cfg.alphaTicks[i]} series={cfg.alpha[i]} base={cfg.alphaBase[i]}
          left={cfg.lefts[i]} right={cfg.rights[i]} top={cfg.rows[0][0]} bottom={cfg.rows[0][1]} />
      ))}
      {DATASET_NAMES.map((name, i) => (
        <SubPlot key={'b' + i} title={`${cfg.model}—${name}—${cfg.split}—β`} labels={BETA_TICKS} series={cfg.beta[i]} base={cfg.betaBase[i]}
          left={cfg.lefts[i]} right={cfg.rights[i]} top={cfg.rows[1][0]} bottom={cfg.rows[1][1]} />
      ))}
      <LegendStrip top={cfg.legendTop} />
      <div style={{ position: 'absolute', left: 0, top: cfg.captionY - 14, width: 1061, height: 28, lineHeight: '28px', textAlign: 'center', fontFamily: '"Liberation Serif", "Times New Roman", serif', fontSize: 23.8, color: '#111', whiteSpace: 'nowrap' }}>
        {cfg.caption}
      </div>
    </>
  );
}

export default function App() {
  return (
    <div style={{ position: 'fixed', left: 0, top: 0, width: 1061, height: 855, background: '#fff', overflow: 'hidden' }}>
      {PANELS.map((cfg, i) => <Panel key={i} cfg={cfg} />)}
    </div>
  );
}
